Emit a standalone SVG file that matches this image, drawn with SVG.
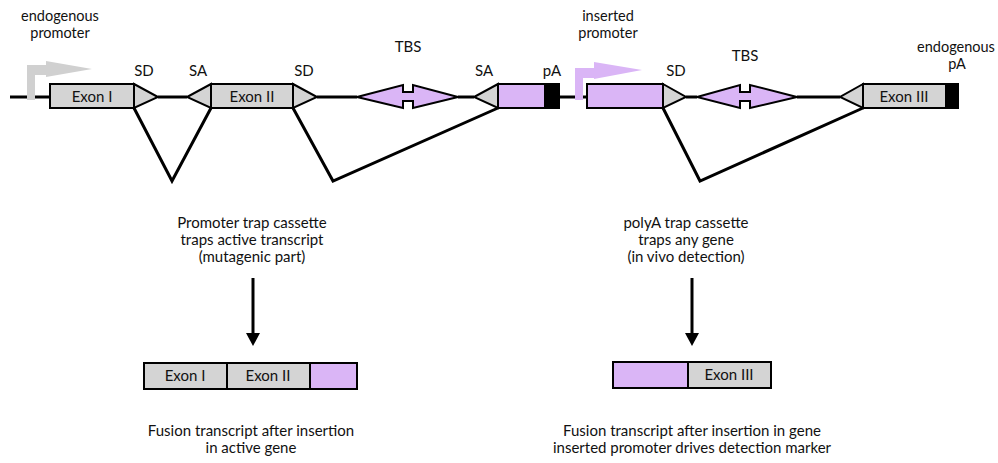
<svg xmlns="http://www.w3.org/2000/svg" width="998" height="463" viewBox="0 0 998 463">
<defs>
<style>
text{font-family:Lato,"Open Sans","Liberation Sans",sans-serif;font-size:15px;fill:#111;text-anchor:middle}
.sm{font-size:14.5px}
.ln{stroke:#000;stroke-width:3;fill:none;stroke-linejoin:miter}
.gray{fill:#d4d4d4;stroke:#000;stroke-width:2}
.purp{fill:#dab5f6;stroke:#000;stroke-width:2}
.blk{fill:#000;stroke:#000;stroke-width:2}
</style>
</defs>
<rect width="998" height="463" fill="#fff"/>

<g id="connectors">
<line class="ln" x1="10" y1="97" x2="50" y2="97"/>
<line class="ln" x1="158" y1="97" x2="187" y2="97"/>
<line class="ln" x1="317" y1="97" x2="357" y2="97"/>
<line class="ln" x1="458" y1="97" x2="474" y2="97"/>
<line class="ln" x1="559" y1="97" x2="587" y2="97"/>
<line class="ln" x1="686" y1="97" x2="697" y2="97"/>
<line class="ln" x1="797" y1="97" x2="840" y2="97"/>
<polyline class="ln" points="134,108 172,181 211,108"/>
<polyline class="ln" points="293,108 333,181 498,108"/>
<polyline class="ln" points="663,108 700,181 863,108"/>
<line x1="253" y1="278" x2="253" y2="334" stroke="#000" stroke-width="3"/>
<path d="M246,333 L260,333 L253,346 Z" fill="#000"/>
<line x1="692" y1="278" x2="692" y2="334" stroke="#000" stroke-width="3"/>
<path d="M685,333 L699,333 L692,346 Z" fill="#000"/>
</g>

<g id="endogenous-promoter">
<path d="M27,100 V65 H47 V75 H35 V100 Z" fill="#d0d0d0"/>
<path d="M46,61 L92,69 L46,77 Z" fill="#d0d0d0"/>
<text class="sm" x="60" y="21">endogenous</text>
<text class="sm" x="60" y="38">promoter</text>
</g>

<g id="exon1">
<rect class="gray" x="50" y="84" width="84" height="24"/>
<text x="92" y="102">Exon I</text>
</g>
<g id="sd1">
<path class="gray" d="M134,84 L158,97 L134,108 Z"/>
<text x="144" y="76">SD</text>
</g>
<g id="sa1">
<path class="gray" d="M211,84 L187,97 L211,108 Z"/>
<text x="198" y="76">SA</text>
</g>
<g id="exon2">
<rect class="gray" x="211" y="84" width="82" height="24"/>
<text x="252" y="102">Exon II</text>
</g>
<g id="sd2">
<path class="gray" d="M293,84 L317,97 L293,108 Z"/>
<text x="304" y="76">SD</text>
</g>
<g id="tbs1">
<path class="purp" d="M357,97 L403,85 L403,92 L413,92 L413,85 L458,97 L413,108 L413,101 L403,101 L403,108 Z"/>
<text x="408" y="52">TBS</text>
</g>
<g id="sa2">
<path class="gray" d="M498,84 L474,97 L498,108 Z"/>
<text x="484" y="76">SA</text>
</g>
<g id="marker1">
<rect class="purp" x="498" y="84" width="47" height="24"/>
</g>
<g id="pa1">
<rect class="blk" x="545" y="84" width="14" height="24"/>
<text x="552" y="76">pA</text>
</g>
<g id="inserted-promoter">
<path d="M575,100 V68 H595 V78 H583 V100 Z" fill="#dab5f6"/>
<path d="M594,62 L642,70 L594,79 Z" fill="#dab5f6"/>
<text class="sm" x="608" y="21">inserted</text>
<text class="sm" x="608" y="38">promoter</text>
</g>
<g id="marker2">
<rect class="purp" x="587" y="84" width="76" height="24"/>
</g>
<g id="sd3">
<path class="gray" d="M663,84 L686,97 L663,108 Z"/>
<text x="676" y="76">SD</text>
</g>
<g id="tbs2">
<path class="purp" d="M697,97 L740,85 L740,92 L750,92 L750,85 L797,97 L750,108 L750,101 L740,101 L740,108 Z"/>
<text x="745" y="61">TBS</text>
</g>
<g id="sa3">
<path class="gray" d="M863,84 L840,97 L863,108 Z"/>
</g>
<g id="exon3">
<rect class="gray" x="863" y="84" width="83" height="24"/>
<text x="904" y="102">Exon III</text>
</g>
<g id="pa2">
<rect class="blk" x="946" y="84" width="12" height="24"/>
<text class="sm" x="956" y="52">endogenous</text>
<text class="sm" x="957" y="69">pA</text>
</g>

<g id="label-promoter-trap">
<text x="252" y="228">Promoter trap cassette</text>
<text x="252" y="245">traps active transcript</text>
<text x="252" y="262">(mutagenic part)</text>
</g>
<g id="label-polya-trap">
<text x="686" y="228">polyA trap cassette</text>
<text x="686" y="245">traps any gene</text>
<text x="686" y="262">(in vivo detection)</text>
</g>

<g id="fusion1">
<rect class="gray" x="144" y="363" width="83" height="26"/>
<rect class="gray" x="227" y="363" width="83" height="26"/>
<rect class="purp" x="310" y="363" width="47" height="26"/>
<text x="185" y="381">Exon I</text>
<text x="268" y="381">Exon II</text>
</g>
<g id="fusion2">
<rect class="purp" x="613" y="362" width="75" height="26"/>
<rect class="gray" x="688" y="362" width="83" height="26"/>
<text x="729" y="380">Exon III</text>
</g>

<g id="caption1">
<text x="251" y="436">Fusion transcript after insertion</text>
<text x="251" y="453">in active gene</text>
</g>
<g id="caption2">
<text x="692" y="436">Fusion transcript after insertion in gene</text>
<text x="692" y="453">inserted promoter drives detection marker</text>
</g>
</svg>
